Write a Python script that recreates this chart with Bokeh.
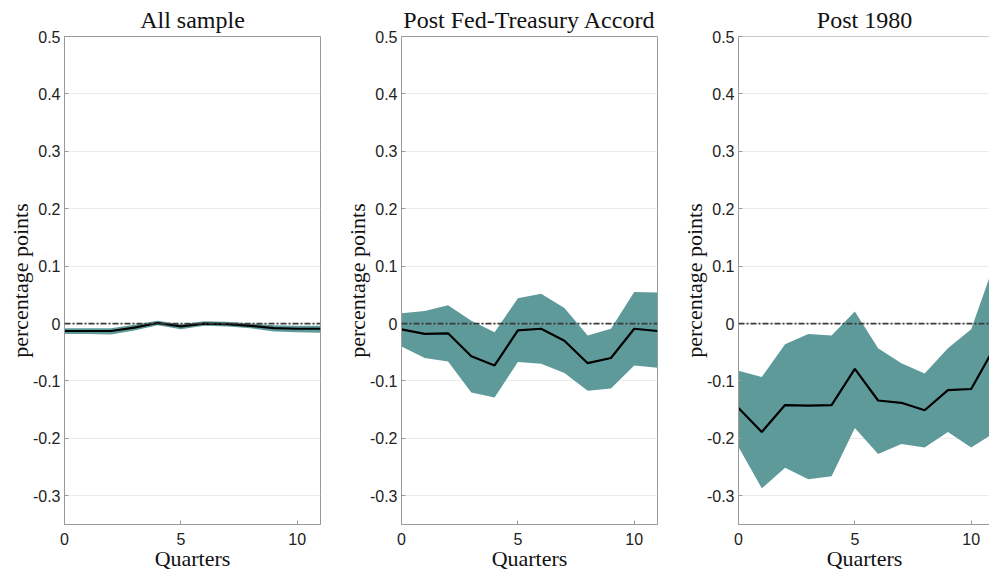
from bokeh.plotting import figure
from bokeh.layouts import row
from bokeh.models import Span, FixedTicker, Range1d
from bokeh.embed import file_html
from bokeh.resources import INLINE

# ---- data ----
quarters = list(range(12))

titles = ["All sample", "Post Fed-Treasury Accord", "Post 1980"]

all_mean = [-0.013, -0.013, -0.013, -0.007, 0.001, -0.005, 0.000, -0.001, -0.004, -0.008, -0.009, -0.009]
all_upper = [-0.008, -0.008, -0.008, -0.002, 0.005, -0.001, 0.004, 0.003, 0.000, -0.003, -0.004, -0.004]
all_lower = [-0.018, -0.018, -0.019, -0.012, -0.003, -0.010, -0.004, -0.005, -0.008, -0.014, -0.015, -0.016]

ft_mean = [-0.010, -0.018, -0.017, -0.057, -0.073, -0.012, -0.009, -0.030, -0.069, -0.060, -0.009, -0.013]
ft_upper = [0.018, 0.022, 0.032, 0.005, -0.015, 0.044, 0.052, 0.027, -0.021, -0.009, 0.055, 0.054]
ft_lower = [-0.040, -0.060, -0.066, -0.120, -0.129, -0.067, -0.070, -0.086, -0.117, -0.113, -0.073, -0.077]

p80_mean = [-0.147, -0.189, -0.142, -0.143, -0.142, -0.079, -0.134, -0.138, -0.151, -0.116, -0.114, -0.042]
p80_upper = [-0.082, -0.093, -0.036, -0.018, -0.021, 0.021, -0.043, -0.069, -0.087, -0.043, -0.010, 0.105]
p80_lower = [-0.215, -0.287, -0.251, -0.271, -0.266, -0.182, -0.227, -0.210, -0.216, -0.189, -0.216, -0.190]

y_ticks = [-0.3, -0.2, -0.1, 0, 0.1, 0.2, 0.3, 0.4, 0.5]
y_tick_labels = ["-0.3", "-0.2", "-0.1", "0", "0.1", "0.2", "0.3", "0.4", "0.5"]
x_ticks = [0, 5, 10]
y_label = "percentage points"
x_label = "Quarters"

series = [
    (all_mean, all_upper, all_lower),
    (ft_mean, ft_upper, ft_lower),
    (p80_mean, p80_upper, p80_lower),
]

BAND = "#5f9a9a"
AXIS = "#9a9a9a"
TXT = "#222222"
SERIF = "Liberation Serif"
SANS = "Liberation Sans"
Y0, Y1 = -0.35, 0.5

figs = []
for i, (mean, upper, lower) in enumerate(series):
    last = (i == 2)
    x_end = 10.83 if last else 11
    fw = 252 if last else 256
    p = figure(
        title=titles[i],
        frame_width=fw, frame_height=488,
        x_range=Range1d(0, x_end), y_range=Range1d(Y0, Y1),
        output_backend="svg", toolbar_location=None,
        min_border_left=64, min_border_right=0 if last else 17,
        min_border_top=35, min_border_bottom=43,
    )
    p.background_fill_color = "white"
    p.border_fill_color = "white"
    if last:
        p.outline_line_color = None
        p.add_layout(Span(location=Y1, dimension="width", line_color=AXIS, line_width=1))
    else:
        p.outline_line_color = AXIS
        p.outline_line_width = 1

    p.title.text_font = SERIF
    p.title.text_font_size = "24px"
    p.title.text_font_style = "normal"
    p.title.text_color = "#111111"
    p.title.align = "center"
    p.title.standoff = 8

    p.varea(x=quarters, y1=lower, y2=upper, fill_color=BAND, fill_alpha=1.0)
    p.add_layout(Span(location=0, dimension="width", line_color="#3a3a3a",
                      line_width=1.8, line_dash="6 2 2 2"))
    p.line(quarters, mean, line_color="black", line_width=2.2)

    p.xgrid.grid_line_color = None
    p.ygrid.grid_line_color = "#ebebeb"
    p.ygrid.ticker = FixedTicker(ticks=y_ticks)

    xa = p.xaxis[0]
    xa.ticker = FixedTicker(ticks=x_ticks)
    ya = p.yaxis[0]
    ya.ticker = FixedTicker(ticks=y_ticks)
    ya.major_label_overrides = {t: lab for t, lab in zip(y_ticks, y_tick_labels)}
    for ax in (xa, ya):
        ax.axis_line_color = AXIS
        ax.major_tick_line_color = AXIS
        ax.major_tick_in = 4
        ax.major_tick_out = 0
        ax.minor_tick_line_color = None
        ax.major_label_text_font = SANS
        ax.major_label_text_font_size = "16px"
        ax.major_label_text_color = TXT
        ax.axis_label_text_font = SERIF
        ax.axis_label_text_font_size = "22px"
        ax.axis_label_text_font_style = "normal"
        ax.axis_label_text_color = "#111111"
    xa.axis_label = x_label
    ya.axis_label = y_label
    xa.major_label_standoff = 8
    xa.axis_label_standoff = -2
    ya.major_label_standoff = 4
    ya.axis_label_standoff = -3
    figs.append(p)

layout = row(*figs)
open("out.html", "w").write(file_html(layout, INLINE))
